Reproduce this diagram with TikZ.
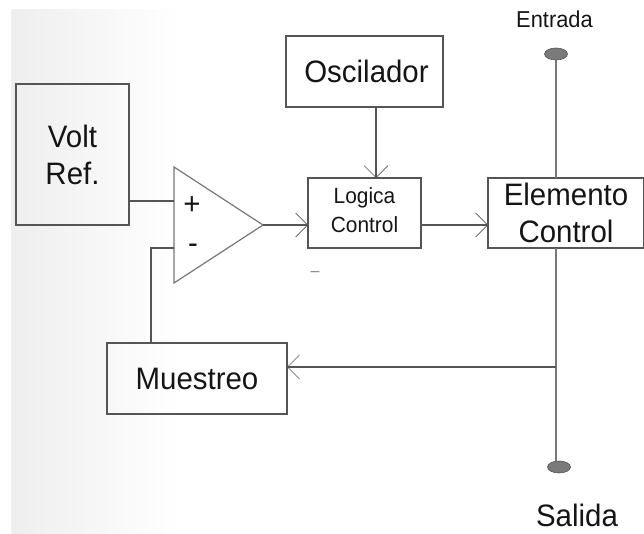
\documentclass[tikz,border=0pt]{standalone}
\usepackage{fontspec}
\setmainfont[FakeStretch=0.95]{Liberation Sans}
\usetikzlibrary{arrows.meta,shapes.geometric}
\definecolor{linegrey}{HTML}{555555}
\definecolor{wiregrey}{HTML}{777777}
\definecolor{inkgrey}{HTML}{151515}
\definecolor{portgrey}{HTML}{7A7A7A}
\definecolor{shadegrey}{HTML}{EEEEEE}
\tikzset{
  x=1pt,y=-1pt,
  blockbox/.style={draw=linegrey,line width=1.1pt,rectangle,inner sep=0pt,text=inkgrey,align=center},
  bigtext/.style={font=\fontsize{31}{37}\selectfont},
  smalltext/.style={font=\fontsize{22}{29}\selectfont},
  signal/.style={draw=linegrey,line width=1.1pt},
  arrowed/.style={signal,-{Straight Barb[length=12pt,width=24pt,line width=.7pt]}},
  rail/.style={draw=wiregrey,line width=1.3pt},
  port/.style={ellipse,draw=linegrey,fill=portgrey,line width=.6pt,minimum width=23pt,minimum height=12pt,inner sep=0pt},
  plain/.style={inner sep=0pt,text=inkgrey,align=center},
}
\begin{document}
\begin{tikzpicture}
\useasboundingbox (0,0) rectangle (644,534);
\fill[left color=shadegrey,right color=white] (11,10) rectangle (180,534);

\node[blockbox,bigtext,minimum width=113pt,minimum height=141pt] (volt) at (72.5,154.5) {Volt\\Ref.};
\node[blockbox,bigtext,minimum width=157pt,minimum height=71pt] (osc) at (364.5,71.5) {\hspace{4pt}Oscilador};
\node[blockbox,smalltext,minimum width=113pt,minimum height=70pt] (logic) at (364.5,213) {\raisebox{-2.5pt}[0pt][0pt]{\parbox{113pt}{\centering Logica\\Control}}};
\node[blockbox,bigtext,minimum width=156pt,minimum height=70pt] (elem) at (566,213) {Elemento\\Control};
\node[blockbox,bigtext,minimum width=180pt,minimum height=71pt] (mues) at (197,378.5) {Muestreo};

\coordinate (ampTop) at (174,167);
\coordinate (ampBot) at (174,283);
\coordinate (ampTip) at (263,225);
\draw[draw=wiregrey,line width=1.2pt,line join=miter] (ampTop) -- (ampTip) -- (ampBot) -- cycle;
\node[plain,bigtext] (plus) at (192,206) {+};
\node[plain,bigtext] (minus) at (193,249) {-};

\node[plain,font=\fontsize{23}{26}\selectfont] (entrada) at (554.5,19) {Entrada};
\node[plain,font=\fontsize{31}{36}\selectfont] (salida) at (577,515) {Salida};
\node[port] (in) at (556,54) {};
\node[port] (out) at (559,467) {};
\node[plain,font=\fontsize{16}{16}\selectfont,text=wiregrey] (tick) at (315,271) {\_};

\coordinate (plusIn) at (174,201);
\coordinate (minusIn) at (174,248);
\coordinate (voltOut) at (129,201);
\coordinate (fbCorner) at (151,248);
\coordinate (fbEnd) at (151,343);
\coordinate (logicIn) at (308,225);
\coordinate (logicOut) at (421,225);
\coordinate (elemIn) at (488,225);
\coordinate (oscOut) at (376,107);
\coordinate (logicTop) at (376,178);
\coordinate (inEnd) at (556,60);
\coordinate (elemTop) at (556,178);
\coordinate (elemBot) at (556,248);
\coordinate (tap) at (556,367);
\coordinate (outEnd) at (556,461);
\coordinate (muesIn) at (287,367);

\draw[signal] (voltOut) -- (plusIn);
\draw[signal] (minusIn) -- (fbCorner) -- (fbEnd);
\draw[arrowed] (ampTip) -- (logicIn);
\draw[arrowed] (logicOut) -- (elemIn);
\draw[arrowed] (oscOut) -- (logicTop);
\draw[rail] (inEnd) -- (elemTop);
\draw[rail] (elemBot) -- (outEnd);
\draw[arrowed] (tap) -- (muesIn);
\end{tikzpicture}
\end{document}
